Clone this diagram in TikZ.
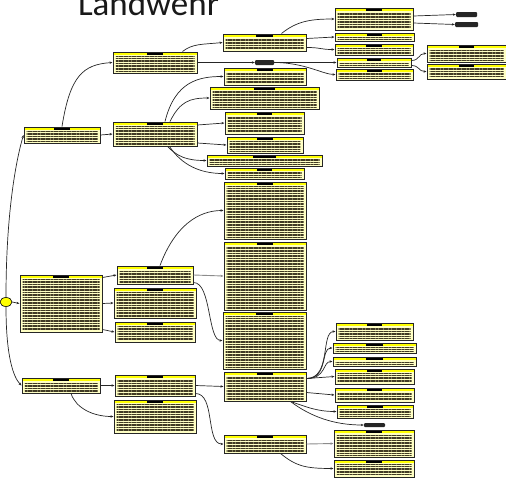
\documentclass[tikz,border=0pt]{standalone}
\usepackage{fontspec}
\newfontfamily\titlefont{Carlito}
\usetikzlibrary{shapes.geometric,arrows.meta,calc,patterns.meta}
\definecolor{paleyellow}{RGB}{255,255,196}
\definecolor{hdryellow}{RGB}{255,255,0}
\definecolor{txtgray}{RGB}{64,58,36}

\begin{document}
\begin{tikzpicture}[x=1pt,y=-1pt]
  \tikzstyle{topic}=[rectangle, draw=black!85, line width=1pt, fill=paleyellow, inner sep=0pt,
    path picture={
      \fill[hdryellow] (path picture bounding box.north west) rectangle ($(path picture bounding box.north east)+(0pt,-2.5pt)$);
      \fill[black] ($(path picture bounding box.north west)!0.4!(path picture bounding box.north east)$) rectangle ($(path picture bounding box.north west)!0.6!(path picture bounding box.north east)+(0pt,-3pt)$);
      \fill[pattern={Lines[distance=2.6pt,line width=1.6pt]}, pattern color=txtgray]
        ($(path picture bounding box.north west)+(2.5pt,-4pt)$) rectangle ($(path picture bounding box.south east)+(-2.5pt,1.5pt)$);
    }]
  \tikzstyle{tag}=[rectangle, fill=black!85, rounded corners=1pt, inner sep=0pt]
  \tikzstyle{rootnode}=[ellipse, draw=black, line width=0.6pt, fill=hdryellow, inner sep=0pt]
  \tikzstyle{link}=[-{Stealth[length=3pt,width=2.4pt]}, line width=0.7pt, black!85]
  \tikzstyle{graylink}=[link, black!45, line width=0.9pt]

  \useasboundingbox (0,0) rectangle (506,477);

  \node[font=\titlefont\fontsize{35}{40}\selectfont, anchor=base, text=black!90] (title) at (148.5,15) {Landwehr};

  % root and first level
  \node[rootnode, minimum width=12, minimum height=9] (root) at (6,302) {};
  \node[topic, minimum width=76, minimum height=16] (A) at (62,135) {};
  \node[topic, minimum width=82, minimum height=57] (B) at (61,303.5) {};
  \node[topic, minimum width=78, minimum height=15] (C) at (61,385.5) {};

  % second level
  \node[topic, minimum width=84, minimum height=21] (A1) at (155,62.5) {};
  \node[topic, minimum width=84, minimum height=24] (A2) at (155,134) {};
  \node[topic, minimum width=76, minimum height=18] (B1) at (155,275) {};
  \node[topic, minimum width=82, minimum height=30] (B2) at (155,303) {};
  \node[topic, minimum width=80, minimum height=20] (B3) at (155,332) {};
  \node[topic, minimum width=80, minimum height=21] (C1) at (155,385.5) {};
  \node[topic, minimum width=82, minimum height=33] (C2) at (155,416.5) {};

  % third level
  \node[topic, minimum width=83, minimum height=17] (A1a) at (264.5,42.5) {};
  \node[tag, minimum width=19, minimum height=5] (tag1) at (264.5,62.5) {};
  \node[topic, minimum width=82, minimum height=17] (F1) at (265,76.5) {};
  \node[topic, minimum width=109, minimum height=22] (F2) at (264.5,98) {};
  \node[topic, minimum width=79, minimum height=22] (F3) at (264.5,123) {};
  \node[topic, minimum width=76, minimum height=16] (F4) at (265,145) {};
  \node[topic, minimum width=115, minimum height=11] (F5) at (264.5,160.5) {};
  \node[topic, minimum width=79, minimum height=11] (F6) at (264.5,173.5) {};
  \node[topic, minimum width=82, minimum height=57] (F7) at (265,210.5) {};
  \node[topic, minimum width=82, minimum height=68] (G) at (265,276) {};
  \node[topic, minimum width=83, minimum height=57] (H) at (264.5,340.5) {};
  \node[topic, minimum width=82, minimum height=29] (I) at (265,386.5) {};
  \node[topic, minimum width=82, minimum height=18] (J) at (265,444) {};

  % fourth level
  \node[topic, minimum width=78, minimum height=22] (D1) at (374,19) {};
  \node[topic, minimum width=79, minimum height=8] (D2) at (374.5,37) {};
  \node[topic, minimum width=78, minimum height=11] (D3) at (374,49.5) {};
  \node[topic, minimum width=74, minimum height=9] (D4) at (374,62.5) {};
  \node[topic, minimum width=77, minimum height=11] (D5) at (374.5,74.5) {};
  \node[topic, minimum width=77, minimum height=17] (K1) at (374.5,331.5) {};
  \node[topic, minimum width=83, minimum height=10] (K2) at (374.5,348) {};
  \node[topic, minimum width=83, minimum height=9] (K3) at (374.5,361.5) {};
  \node[topic, minimum width=79, minimum height=15] (K4) at (374.5,376.5) {};
  \node[topic, minimum width=79, minimum height=14] (K5) at (374.5,395) {};
  \node[topic, minimum width=76, minimum height=13] (K6) at (375,411.5) {};
  \node[tag, minimum width=21, minimum height=4] (tag4) at (374.5,425) {};
  \node[topic, minimum width=80, minimum height=27] (L1) at (374,443.5) {};
  \node[topic, minimum width=80, minimum height=17] (L2) at (374,468.5) {};

  % fifth level
  \node[tag, minimum width=21, minimum height=5] (tag2) at (466.5,14.5) {};
  \node[tag, minimum width=23, minimum height=5] (tag3) at (466.5,24.5) {};
  \node[topic, minimum width=79, minimum height=17] (E1) at (466.5,53.5) {};
  \node[topic, minimum width=79, minimum height=15] (E2) at (466.5,71.5) {};

  % connectors
  \draw[link] (root.north) .. controls +(0,-90) and +(-6,20) .. (A.west);
  \draw[link] (root.east) -- (B.west);
  \draw[link] (root.south) .. controls +(0,50) and +(-8,-8) .. (C.west);

  \draw[link] (A.north) .. controls +(8,-50) and +(-30,2) .. (A1.west);
  \draw[link] (A.east) -- (A2.west);
  \draw[link] ([xshift=-15pt]A1.north east) .. controls +(10,-8) and +(-20,2) .. (A1a.west);
  \draw[link] (A1.east) -- (tag1.west);
  \draw[link] ([xshift=-25pt]A1a.north east) .. controls +(15,-12) and +(-25,0) .. (D1.west);
  \draw[link] ([yshift=4pt]A1a.east) -- (D2.west);
  \draw[link] ([yshift=-5pt]A1a.east) .. controls +(15,0) and +(-15,0) .. (D3.west);
  \draw[link] (tag1.east) -- (D4.west);
  \draw[link] (tag1.east) .. controls +(30,0) and +(-12,0) .. (D5.west);
  \draw[link] ([yshift=3pt]D1.east) -- (tag2.west);
  \draw[link] ([yshift=-4pt]D1.east) -- (tag3.west);
  \draw[link] ([yshift=2pt]D4.east) .. controls +(8,0) and +(-8,0) .. (E1.west);
  \draw[link] ([yshift=-3pt]D4.east) .. controls +(8,0) and +(-8,0) .. (E2.west);

  \draw[link] ([xshift=10pt]A2.north) .. controls +(10,-40) and +(-25,0) .. (F1.west);
  \draw[link] ([xshift=15pt]A2.north) .. controls +(10,-20) and +(-20,0) .. (F2.west);
  \draw[link] ([yshift=9pt]A2.east) -- (F3.west);
  \draw[link] ([yshift=-9pt]A2.east) -- (F4.west);
  \draw[link] ([xshift=-30pt]A2.south east) .. controls +(10,10) and +(-20,0) .. (F5.west);
  \draw[link] ([xshift=-28pt]A2.south east) .. controls +(12,18) and +(-25,0) .. (F6.west);

  \draw[link] ([yshift=-3pt]B.north east) -- (B1.west);
  \draw[link] (B.east) -- (B2.west);
  \draw[link] ([yshift=3pt]B.south east) -- (B3.west);
  \draw[link] ([xshift=5pt]B1.north) .. controls +(15,-40) and +(-25,0) .. (F7.west);
  \draw[graylink] (B1.east) -- (G.west);
  \draw[link] ([yshift=2pt]B1.south east) .. controls +(18,0) and +(-15,0) .. (H.west);

  \draw[link] (C.east) -- (C1.west);
  \draw[link] ([xshift=10pt]C.south) .. controls +(5,15) and +(-20,0) .. (C2.west);
  \draw[link] (C1.east) -- (I.west);
  \draw[link] ([yshift=3pt]C1.south east) .. controls +(20,0) and +(-18,0) .. (J.west);

  \draw[link] ([yshift=8pt]I.east) .. controls +(25,0) and +(-15,0) .. (K1.west);
  \draw[link] ([yshift=8pt]I.east) .. controls +(22,0) and +(-12,0) .. (K2.west);
  \draw[link] ([yshift=8pt]I.east) .. controls +(20,0) and +(-10,0) .. (K3.west);
  \draw[link] ([yshift=8pt]I.east) -- (K4.west);
  \draw[link] ([yshift=-6pt]I.east) -- (K5.west);
  \draw[link] ([xshift=-16pt]I.south east) .. controls +(15,5) and +(-20,0) .. (K6.west);
  \draw[link] ([xshift=-16pt]I.south east) .. controls +(20,15) and +(-30,0) .. (tag4.west);

  \draw[graylink] (J.east) -- (L1.west);
  \draw[link] ([xshift=-26pt]J.south east) .. controls +(15,12) and +(-30,0) .. (L2.west);
\end{tikzpicture}
\end{document}
